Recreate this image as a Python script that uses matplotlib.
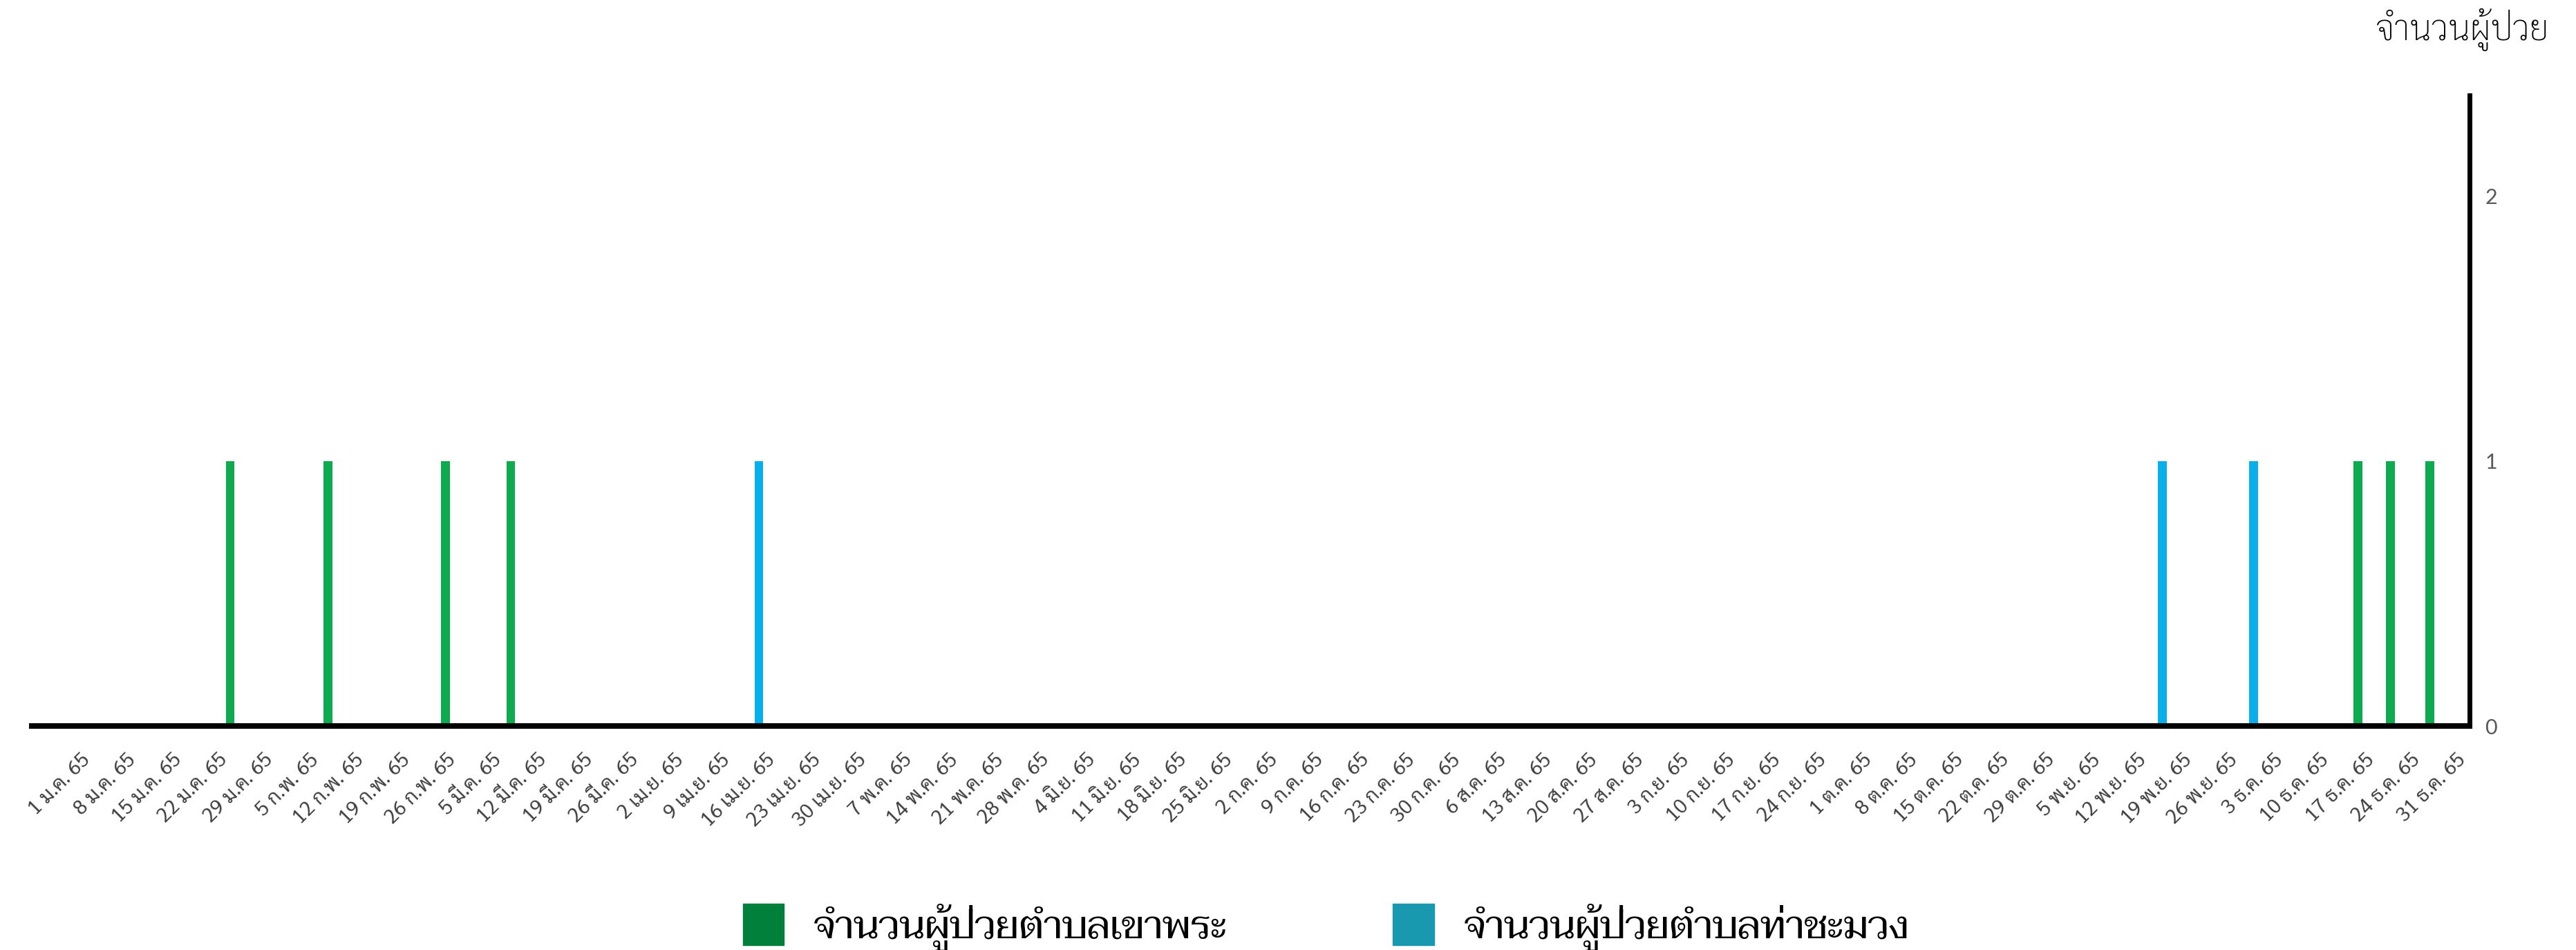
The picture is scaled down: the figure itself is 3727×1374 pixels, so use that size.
import matplotlib
matplotlib.use('Agg')
import matplotlib.pyplot as plt
from matplotlib import font_manager
from matplotlib.patches import Patch
import pandas as pd

# patients per day, 2022 (พ.ศ. 2565)
khao_phra_dates = ['2022-01-24', '2022-02-08', '2022-02-26', '2022-03-08',
                   '2022-12-16', '2022-12-21', '2022-12-27']
khao_phra_vals = [1, 1, 1, 1, 1, 1, 1]
tha_chamuang_dates = ['2022-04-15', '2022-11-16', '2022-11-30']
tha_chamuang_vals = [1, 1, 1]

thai_months = ['ม.ค.', 'ก.พ.', 'มี.ค.', 'เม.ย.', 'พ.ค.', 'มิ.ย.',
               'ก.ค.', 'ส.ค.', 'ก.ย.', 'ต.ค.', 'พ.ย.', 'ธ.ค.']
y_ticks = [0, 1, 2]

legend_labels = ['จำนวนผู้ป่วยตำบลเขาพระ', 'จำนวนผู้ป่วยตำบลท่าชะมวง']
y_title = 'จำนวนผู้ป่วย'

installed = {f.name for f in font_manager.fontManager.ttflist}


def pick(*names):
    for n in names:
        if n in installed:
            return n
    return 'DejaVu Sans'


tick_font = pick('Sarabun', 'Noto Sans Thai Looped', 'Noto Sans Thai')
title_font = pick('Sarabun', 'Noto Sans Thai Looped', 'Noto Sans Thai')
legend_font = pick('Taviraj', 'Trirong', 'Sarabun', 'Noto Sans Thai')
num_font = pick('Lato', 'Open Sans')

start = pd.Timestamp('2022-01-01')
to_day = lambda s: (pd.to_datetime(s) - start).days

fig = plt.figure(figsize=(37.27, 13.74), dpi=100)
ax = fig.add_axes([0.0123, 0.2358, 0.9464, 0.6638])

ax.bar([to_day(d) for d in khao_phra_dates], khao_phra_vals, width=1.35, color='#0DAA50')
ax.bar([to_day(d) for d in tha_chamuang_dates], tha_chamuang_vals, width=1.35, color='#0AAEEB')

ax.set_xlim(-7.41, 366.1)
ax.set_ylim(0, 2.38)

# weekly labels, Thai short date with Buddhist year
week_days = list(range(0, 365, 7))
week_labels = []
for d in week_days:
    t = start + pd.Timedelta(days=d)
    week_labels.append(f'{t.day} {thai_months[t.month - 1]} {(t.year + 543) % 100}')
ax.set_xticks(week_days)
ax.set_xticklabels(week_labels, rotation=45, ha='right', va='top',
                   rotation_mode='anchor', fontsize=21, family=tick_font, color='#404040')
ax.tick_params(axis='x', length=0, pad=25)

ax.yaxis.tick_right()
ax.set_yticks(y_ticks)
ax.set_yticklabels([str(v) for v in y_ticks], fontsize=22, family=num_font, color='#595959')
ax.tick_params(axis='y', length=0, pad=16)

for s in ['top', 'left']:
    ax.spines[s].set_visible(False)
ax.spines['bottom'].set_linewidth(5.8)
ax.spines['right'].set_linewidth(5.0)
ax.spines['bottom'].set_capstyle('projecting')
ax.spines['right'].set_capstyle('projecting')

fig.text(0.9895, 0.958, y_title, ha='right', va='baseline', fontsize=36,
         family=title_font, weight='light')

handles = [Patch(color='#00803A'), Patch(color='#1899B0')]
fig.legend(handles, legend_labels, loc='center', bbox_to_anchor=(0.5147, 0.024), ncol=2,
           frameon=False, prop={'family': legend_font, 'size': 41},
           handlelength=1.05, handleheight=1.25, handletextpad=0.75, columnspacing=4.2)

fig.savefig('out.png')
